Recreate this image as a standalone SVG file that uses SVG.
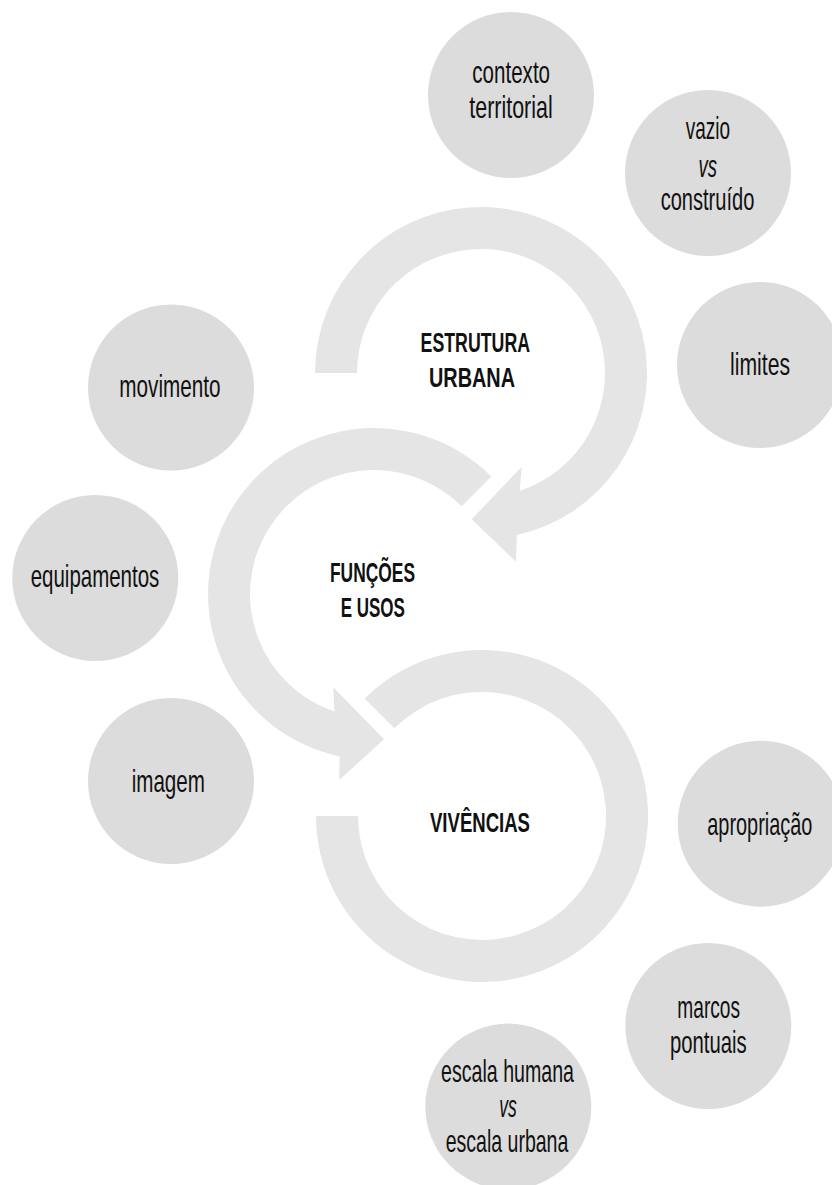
<svg xmlns="http://www.w3.org/2000/svg" width="832" height="1185" viewBox="0 0 832 1185">
  <style>
    .bub { fill: #dcdcdc; }
    .arr { fill: #e5e5e5; }
    .t { font-family: "Liberation Sans Narrow", "Liberation Sans", Arial, sans-serif; font-size: 30.5px; fill: #111; text-anchor: middle; }
    .i { font-style: italic; }
    .b { font-family: "Liberation Sans Narrow", "Liberation Sans", Arial, sans-serif; font-size: 27px; font-weight: bold; fill: #111; text-anchor: middle; }
  </style>
  <rect width="832" height="1185" fill="#ffffff"/>

  <g id="connectors">
    <path id="arrow-estrutura" class="arr" d="M 357 373 L 315 373 A 166 166 0 1 1 516.9 535.1 L 516 561.7 L 471.7 519.3 L 521.7 466.7 L 519.7 490.8 A 124 124 0 1 0 357 373 Z"/>
    <path id="arrow-funcoes" class="arr" d="M 491.4 476.6 A 166 166 0 1 0 339.5 756.4 L 339.3 780 L 384 739.3 L 333.3 687.3 L 334.4 711.5 A 124 124 0 1 1 461.7 506.3 Z"/>
    <path id="arrow-vivencias" class="arr" d="M 364.6 698.6 A 166 166 0 1 1 316 816 L 358 816 A 124 124 0 1 0 394.3 728.3 Z"/>
  </g>

  <g id="estrutura-urbana">
    <text class="b" x="475.3" y="351.7" textLength="109.5" lengthAdjust="spacingAndGlyphs">ESTRUTURA</text>
    <text class="b" x="472" y="386.7" textLength="86" lengthAdjust="spacingAndGlyphs">URBANA</text>
  </g>
  <g id="funcoes-e-usos">
    <text class="b" x="372.5" y="581.7" textLength="85" lengthAdjust="spacingAndGlyphs">FUNÇÕES</text>
    <text class="b" x="372.8" y="616.7" textLength="64.3" lengthAdjust="spacingAndGlyphs">E USOS</text>
  </g>
  <g id="vivencias">
    <text class="b" x="480" y="831.7" textLength="100" lengthAdjust="spacingAndGlyphs">VIVÊNCIAS</text>
  </g>

  <g id="contexto-territorial">
    <circle class="bub" cx="511" cy="95" r="83"/>
    <text class="t" x="511.2" y="82.7" textLength="77.7" lengthAdjust="spacingAndGlyphs">contexto</text>
    <text class="t" x="511" y="118.3" textLength="83.3" lengthAdjust="spacingAndGlyphs">territorial</text>
  </g>
  <g id="vazio-vs-construido">
    <circle class="bub" cx="708" cy="173" r="83"/>
    <text class="t" x="707.8" y="139.3" textLength="44.3" lengthAdjust="spacingAndGlyphs">vazio</text>
    <text class="t i" x="707.8" y="176.7" textLength="18.5" lengthAdjust="spacingAndGlyphs">vs</text>
    <text class="t" x="707.5" y="210" textLength="93.7" lengthAdjust="spacingAndGlyphs">construído</text>
  </g>
  <g id="limites">
    <circle class="bub" cx="760" cy="365" r="83"/>
    <text class="t" x="760" y="375" textLength="60" lengthAdjust="spacingAndGlyphs">limites</text>
  </g>
  <g id="movimento">
    <circle class="bub" cx="171" cy="387.5" r="83"/>
    <text class="t" x="170" y="397.3" textLength="101.3" lengthAdjust="spacingAndGlyphs">movimento</text>
  </g>
  <g id="equipamentos">
    <circle class="bub" cx="95.3" cy="578" r="83"/>
    <text class="t" x="95" y="586.7" textLength="128.7" lengthAdjust="spacingAndGlyphs">equipamentos</text>
  </g>
  <g id="imagem">
    <circle class="bub" cx="171" cy="781" r="83"/>
    <text class="t" x="168.3" y="791.7" textLength="73.3" lengthAdjust="spacingAndGlyphs">imagem</text>
  </g>
  <g id="apropriacao">
    <circle class="bub" cx="760.7" cy="823.7" r="83"/>
    <text class="t" x="759.8" y="835" textLength="105" lengthAdjust="spacingAndGlyphs">apropriação</text>
  </g>
  <g id="marcos-pontuais">
    <circle class="bub" cx="708.3" cy="1026" r="83"/>
    <text class="t" x="708.7" y="1018.3" textLength="62.7" lengthAdjust="spacingAndGlyphs">marcos</text>
    <text class="t" x="708.3" y="1053.3" textLength="76.7" lengthAdjust="spacingAndGlyphs">pontuais</text>
  </g>
  <g id="escala-humana-vs-escala-urbana">
    <circle class="bub" cx="508.3" cy="1106.6" r="83"/>
    <text class="t" x="507.5" y="1081.7" textLength="133" lengthAdjust="spacingAndGlyphs">escala humana</text>
    <text class="t i" x="508" y="1116.7" textLength="17.5" lengthAdjust="spacingAndGlyphs">vs</text>
    <text class="t" x="507" y="1151.7" textLength="122.7" lengthAdjust="spacingAndGlyphs">escala urbana</text>
  </g>
</svg>
